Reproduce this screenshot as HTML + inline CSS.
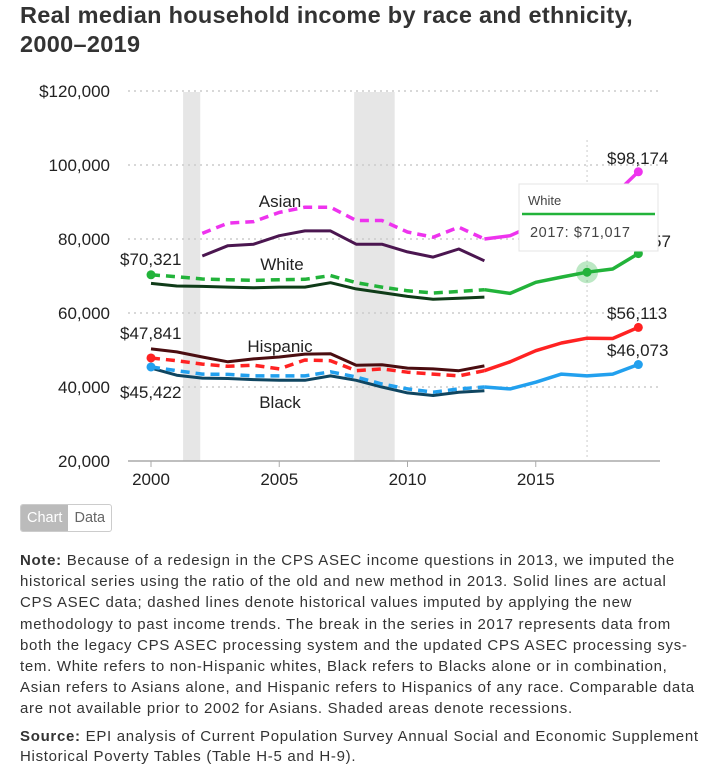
<!DOCTYPE html>
<html><head><meta charset="utf-8">
<style>
body{margin:0;width:720px;height:773px;background:#fff;font-family:"Liberation Sans",sans-serif;color:#222;position:relative;overflow:hidden}
h1{position:absolute;left:20px;top:1px;margin:0;font-size:23.5px;line-height:29px;font-weight:bold;color:#333;width:665px;letter-spacing:0.3px}
svg{position:absolute;left:0;top:0}
.btns{position:absolute;left:20px;top:504px;height:26px;display:flex;border:1px solid #ccc;border-radius:3px;overflow:hidden;font-size:14.5px}
.btns div{padding:0 6px;line-height:26px}
.note{position:absolute;left:20px;top:550px;width:680px;font-size:15px;line-height:21.2px;color:#333;letter-spacing:0.7px}
.note p{margin:0 0 7px 0}
</style></head><body>
<h1>Real median household income by race and ethnicity, 2000–2019</h1>
<svg id="chart" width="720" height="495"></svg>
<div class="btns">
<div style="background:#bbb;color:#fff">Chart</div>
<div style="color:#666">Data</div>
</div>
<div class="note">
<p><b>Note:</b> Because of a redesign in the CPS ASEC income questions in 2013, we imputed the historical series using the ratio of the old and new method in 2013. Solid lines are actual CPS ASEC data; dashed lines denote historical values imputed by applying the new methodology to past income trends. The break in the series in 2017 represents data from both the legacy CPS ASEC processing system and the updated CPS ASEC processing sys­tem. White refers to non-Hispanic whites, Black refers to Blacks alone or in combination, Asian refers to Asians alone, and Hispanic refers to Hispanics of any race. Comparable data are not available prior to 2002 for Asians. Shaded areas denote recessions.</p>
<p style="line-height:20px"><b>Source:</b> EPI analysis of Current Population Survey Annual Social and Economic Supplement Historical Poverty Tables (Table H-5 and H-9).</p>
</div>
<script>
const yTicks=[20000,40000,60000,80000,100000,120000];
const yTickLabels=["20,000","40,000","60,000","80,000","100,000","$120,000"];
const xTicks=[2000,2005,2010,2015];
const recessions=[[2001.25,2001.92],[2007.92,2009.5]];
const whiteImputedYears=[2000,2001,2002,2003,2004,2005,2006,2007,2008,2009,2010,2011,2012,2013];
const whiteImputed=[70321,69800,69200,69000,68800,69000,69100,70100,68200,67000,66000,65400,65800,66300];
const whiteNewYears=[2013,2014,2015,2016,2017,2018,2019];
const whiteNew=[66300,65300,68300,69700,71017,71900,76057];
const whiteOld=[68000,67300,67200,67000,66800,67000,67000,68200,66500,65500,64500,63700,64000,64300];
const asianYears=[2002,2003,2004,2005,2006,2007,2008,2009,2010,2011,2012,2013];
const asianImputed=[81500,84300,84700,87200,88600,88600,85000,85000,81900,80500,83200,80000];
const asianOld=[75400,78200,78600,80900,82200,82200,78600,78600,76500,75100,77300,74100];
const asianNewYears=[2013,2014,2015,2016,2017,2018,2019];
const asianNew=[80000,80900,84000,87500,89000,91500,98174];
const hispImputed=[47841,47100,46200,45600,45900,44900,47300,47100,44400,44900,44000,43500,43000,44400];
const hispOld=[50300,49500,48100,46800,47600,48100,48900,49000,45900,46000,45100,44900,44400,45700];
const hispNew=[44400,46800,49800,51900,53200,53100,56113];
const blackImputed=[45422,44400,43500,43400,43000,43000,43000,44100,42700,40800,39500,38600,39500,40000];
const blackOld=[45100,43200,42400,42300,42000,41800,41800,43000,41800,40000,38400,37700,38600,39000];
const blackNew=[40000,39500,41300,43500,43000,43500,46073];

const X=y=>151+(y-2000)*25.65;
const Y=v=>461-(v-20000)*74/20000;
const NS="http://www.w3.org/2000/svg";
const svg=document.getElementById('chart');
function mk(tag,attrs,parent){const e=document.createElementNS(NS,tag);for(const k in attrs)e.setAttribute(k,attrs[k]);(parent||svg).appendChild(e);return e;}
function txt(s,x,y,anchor,size,fill){const t=mk('text',{x:x,y:y,'text-anchor':anchor,'font-size':size,fill:fill||'#222','font-family':'Liberation Sans, sans-serif'});t.textContent=s;return t;}

recessions.forEach((r,i)=>{const e=mk('rect',{x:X(r[0]),y:92,width:X(r[1])-X(r[0]),height:369,fill:'#e6e6e6'});

});
yTicks.forEach((v,i)=>{
 if(i>0){const g=mk('line',{x1:128,x2:660,y1:Y(v),y2:Y(v),stroke:'#ccc','stroke-dasharray':'2,4','stroke-width':1.5});
 
 }
 const t=txt(yTickLabels[i],110,Y(v)+6,'end',17);
 
 
});
const ax=mk('line',{x1:128,x2:660,y1:461,y2:461,stroke:'#aaa','stroke-width':1.5});


xTicks.forEach(y=>{mk('line',{x1:X(y),x2:X(y),y1:461,y2:467,stroke:'#aaa'});
 const t=txt(String(y),X(y),485,'middle',17);
 
 });
const vl=mk('line',{x1:X(2017),x2:X(2017),y1:140,y2:458,stroke:'#ccc','stroke-dasharray':'2,3'});



function line(years,vals,color,dashed,name,w){
 const d=vals.map((v,i)=>(i?'L':'M')+X(years[i]).toFixed(1)+','+Y(v).toFixed(1)).join('');
 const p=mk('path',{d:d,fill:'none',stroke:color,'stroke-width':w||3.5,'stroke-dasharray':dashed?'9,6':'none','stroke-linejoin':'round'});
 
 
}
function dot(year,v,color,name){const c=mk('circle',{cx:X(year),cy:Y(v),r:4.5,fill:color});
 
 }
const full=whiteImputedYears;
line(asianYears,asianOld,'#4b1650',false,'asian-old-line',3);
line(asianYears,asianImputed,'#ee33ee',true,'asian-imputed-line');
line(asianNewYears,asianNew,'#ee33ee',false,'asian-new-line');
line(full,whiteOld,'#0f3b18',false,'white-old-line',3);
line(full,whiteImputed,'#22b33a',true,'white-imputed-line');
line(whiteNewYears,whiteNew,'#22b33a',false,'white-new-line');
line(full,hispOld,'#4a0d10',false,'hispanic-old-line',3);
line(full,hispImputed,'#ff2222',true,'hispanic-imputed-line');
line(whiteNewYears,hispNew,'#ff2222',false,'hispanic-new-line');
line(full,blackOld,'#0f4560',false,'black-old-line',3);
line(full,blackImputed,'#22a0ee',true,'black-imputed-line');
line(whiteNewYears,blackNew,'#22a0ee',false,'black-new-line');
dot(2000,whiteImputed[0],'#22b33a','white-start-point');
dot(2000,hispImputed[0],'#ff2222','hispanic-start-point');
dot(2000,blackImputed[0],'#22a0ee','black-start-point');
dot(2019,asianNew[6],'#ee33ee','asian-end-point');
dot(2019,whiteNew[6],'#22b33a','white-end-point');
dot(2019,hispNew[6],'#ff2222','hispanic-end-point');
dot(2019,blackNew[6],'#22a0ee','black-end-point');
const halo=mk('circle',{cx:X(2017),cy:Y(whiteNew[4]),r:11,fill:'#22b33a','fill-opacity':0.3});


dot(2017,whiteNew[4],'#22b33a','hover-point');

const fmt=v=>'$'+v.toLocaleString('en-US');
[[fmt(whiteImputed[0]),120,265,'start'],[fmt(hispImputed[0]),120,339,'start'],[fmt(blackImputed[0]),120,398,'start'],
 [fmt(asianNew[6]),607,164,'start'],[fmt(hispNew[6]),607,319,'start'],[fmt(blackNew[6]),607,356,'start'],['57',652,247,'start'],
 ['Asian',280,207,'middle'],['White',282,270,'middle'],['Hispanic',280,352,'middle'],['Black',280,408,'middle']].forEach(a=>{
 const t=txt(a[0],a[1],a[2],a[3],17);
 
 });

const tip=mk('g',{});


mk('rect',{x:519,y:184,width:139,height:67,fill:'#fff',stroke:'#e4e4e4'},tip);
mk('line',{x1:522,x2:655,y1:214,y2:214,stroke:'#22b33a','stroke-width':2.5},tip);
const t1=mk('text',{x:528,y:205,'font-size':13,fill:'#444','font-family':'Liberation Sans, sans-serif'},tip);t1.textContent='White';
const t2=mk('text',{x:530,y:237,'font-size':14.5,fill:'#444','font-family':'Liberation Sans, sans-serif','letter-spacing':'0.6'},tip);t2.textContent='2017: '+fmt(whiteNew[4]);
</script>
</body></html>
